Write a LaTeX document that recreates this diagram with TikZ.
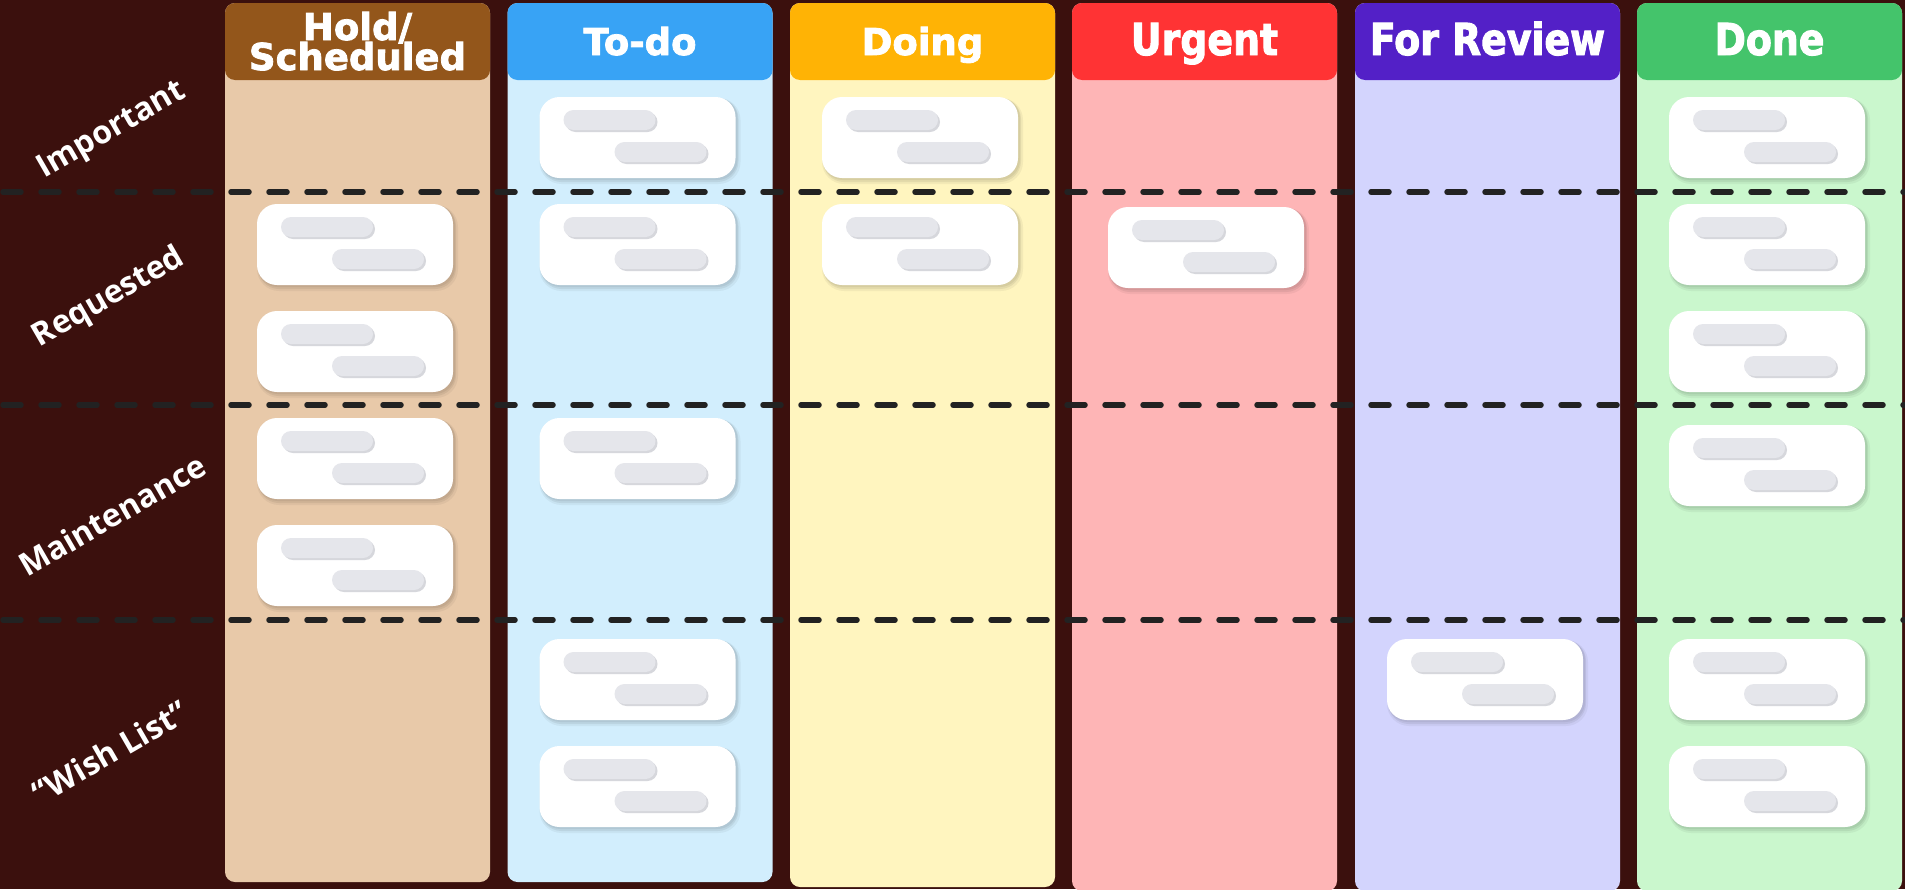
\documentclass[tikz,border=0pt]{standalone}
\usepackage{fontspec}
\newfontfamily\headfont{DejaVu Sans}[FakeBold=2.2]
\newfontfamily\headcond{DejaVu Sans}[FakeStretch=0.86, FakeBold=2.2]
\newfontfamily\rowfont{Open Sans}
\definecolor{bg}{HTML}{3B100D}
\definecolor{holdH}{HTML}{93561B}
\definecolor{holdB}{HTML}{E8C9A9}
\definecolor{todoH}{HTML}{38A3F5}
\definecolor{todoB}{HTML}{D2EEFD}
\definecolor{doingH}{HTML}{FFB305}
\definecolor{doingB}{HTML}{FFF5BF}
\definecolor{urgH}{HTML}{FF3334}
\definecolor{urgB}{HTML}{FEB5B6}
\definecolor{revH}{HTML}{5320C7}
\definecolor{revB}{HTML}{D3D4FD}
\definecolor{doneH}{HTML}{44C46B}
\definecolor{doneB}{HTML}{CAF7CD}
\definecolor{pillc}{HTML}{E5E6EB}
\definecolor{pillsh}{HTML}{D6D7DC}
\definecolor{dashc}{HTML}{222222}
\tikzset{
  dashline/.style={draw=dashc, line width=5.5pt, line cap=round, dash pattern=on 18pt off 20pt},
  headtxt/.style={text=white, inner sep=0pt, anchor=base, font=\headfont\bfseries\fontsize{37}{37}\selectfont},
  condtxt/.style={text=white, inner sep=0pt, anchor=base, font=\headcond\bfseries\fontsize{44}{44}\selectfont},
  rowtxt/.style={text=white, inner sep=0pt, rotate=30, font=\rowfont\bfseries\fontsize{32}{32}\selectfont},
}
% column: left x, bottom y, header colour, body colour
\newcommand\kcol[4]{%
  \fill[#4, rounded corners=10pt] (#1,3) rectangle (#1+265,#2);
  \fill[#3, rounded corners=10pt] (#1,3) rectangle (#1+265,80);
}
% card: left x, top y, column body colour
\newcommand\kcard[3]{%
  \fill[#3!55!black, opacity=0.10, rounded corners=22pt] (#1,#2+1) rectangle (#1+201,#2+87);
  \fill[#3!55!black, opacity=0.15, rounded corners=21pt] (#1+1,#2+1) rectangle (#1+199,#2+85);
  \fill[#3!55!black, opacity=0.15, rounded corners=20pt] (#1+1,#2+1) rectangle (#1+198,#2+83);
  \fill[white, rounded corners=20pt] (#1,#2) rectangle (#1+196,#2+81);
  \fill[pillsh, rounded corners=10pt] (#1+26,#2+15) rectangle (#1+118,#2+35);
  \fill[pillc, rounded corners=10pt] (#1+24,#2+13) rectangle (#1+116,#2+33);
  \fill[pillsh, rounded corners=10pt] (#1+77,#2+47) rectangle (#1+169,#2+67);
  \fill[pillc, rounded corners=10pt] (#1+75,#2+45) rectangle (#1+167,#2+65);
}
\begin{document}
\begin{tikzpicture}[x=1pt, y=-1pt]
\fill[bg] (0,0) rectangle (1905,889);
\useasboundingbox (0,0) rectangle (1905,889);
% columns
\kcol{225}{882}{holdH}{holdB}
\kcol{507.5}{882}{todoH}{todoB}
\kcol{790}{887}{doingH}{doingB}
\kcol{1072}{891}{urgH}{urgB}
\kcol{1355}{891}{revH}{revB}
\kcol{1637}{891}{doneH}{doneB}
% headers
\node[headtxt] (holdA) at (357.5,40) {Hold/};
\node[headtxt] (holdB) at (357.5,70) {Scheduled};
\node[headtxt] (todo) at (640,55) {To-do};
\node[headtxt] (doing) at (922.5,55) {Doing};
\node[condtxt] (urgent) at (1204.5,55) {Urgent};
\node[condtxt] (review) at (1487.5,55) {For Review};
\node[condtxt] (done) at (1769.5,55) {Done};
% swimlane separators
\draw[dashline] (3,192) -- (1905,192);
\draw[dashline] (3,405) -- (1905,405);
\draw[dashline] (3,620) -- (1905,620);
% row labels
\node[rowtxt] (important) at (112,131) {Important};
\node[rowtxt] (requested) at (109,298) {Requested};
\node[rowtxt] (maint) at (112,515) {Maintenance};
\node[rowtxt] (wish) at (110,752) {“Wish List”};
% cards: Hold
\kcard{257}{204}{holdB}
\kcard{257}{311}{holdB}
\kcard{257}{418}{holdB}
\kcard{257}{525}{holdB}
% To-do
\kcard{539.5}{97}{todoB}
\kcard{539.5}{204}{todoB}
\kcard{539.5}{418}{todoB}
\kcard{539.5}{639}{todoB}
\kcard{539.5}{746}{todoB}
% Doing
\kcard{822}{97}{doingB}
\kcard{822}{204}{doingB}
% Urgent
\kcard{1108}{207}{urgB}
% For Review
\kcard{1387}{639}{revB}
% Done
\kcard{1669}{97}{doneB}
\kcard{1669}{204}{doneB}
\kcard{1669}{311}{doneB}
\kcard{1669}{425}{doneB}
\kcard{1669}{639}{doneB}
\kcard{1669}{746}{doneB}
\end{tikzpicture}
\end{document}
